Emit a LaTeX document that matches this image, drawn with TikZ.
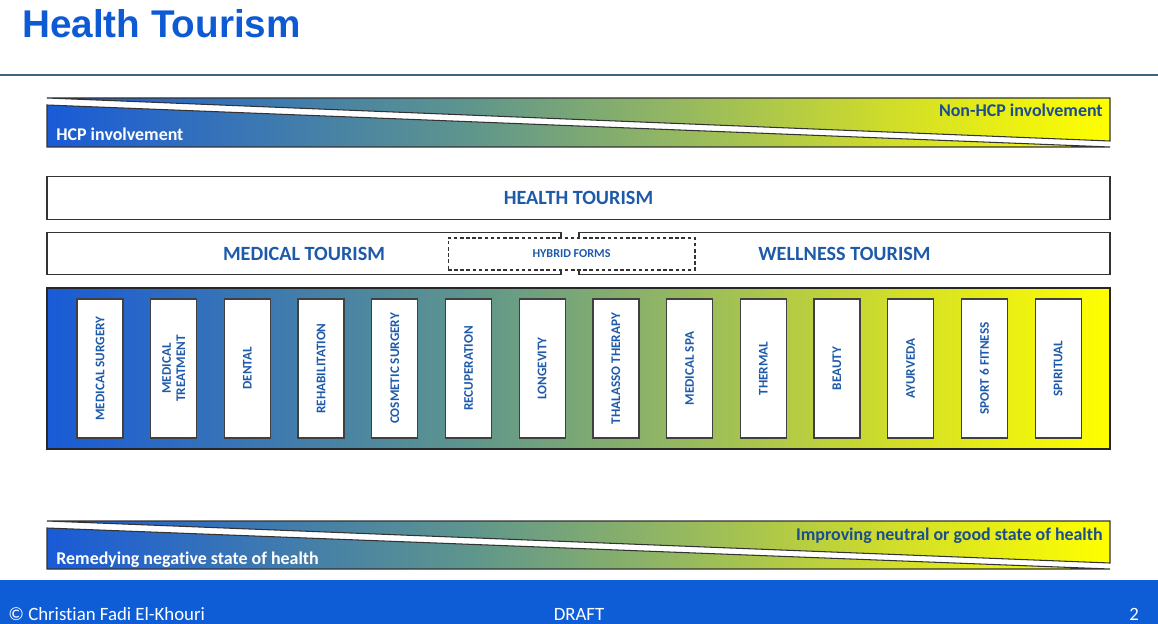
\documentclass[tikz,border=0pt]{standalone}
\usepackage{fontspec}
\setmainfont{Carlito}[Ligatures=NoCommon]
\newfontfamily\titlefont{Liberation Sans}
\usetikzlibrary{calc,positioning,shapes,backgrounds}
\definecolor{titleblue}{RGB}{14,90,212}
\definecolor{labelblue}{RGB}{30,90,170}
\definecolor{darklabel}{RGB}{28,78,140}
\definecolor{footblue}{RGB}{14,92,214}
\definecolor{rulegray}{RGB}{62,100,128}
\definecolor{gradA}{RGB}{25,90,215}
\definecolor{gradB}{RGB}{95,150,140}
\definecolor{gradC}{RGB}{150,185,95}
\definecolor{gradD}{RGB}{210,222,40}
\definecolor{gradE}{RGB}{255,255,0}
\pgfdeclarehorizontalshading{hcpshade}{100bp}{color(0bp)=(gradA); color(25bp)=(gradA); color(45bp)=(gradB); color(55bp)=(gradC); color(65bp)=(gradD); color(75bp)=(gradE); color(100bp)=(gradE)}
\tikzset{
  catbox/.style={draw=black!75,line width=.7pt,fill=white,rotate=90,minimum width=2.78cm,minimum height=.92cm,inner sep=0pt,align=center,text=labelblue,font=\fontsize{7.5}{8.2}\selectfont\bfseries},
  bandbox/.style={draw=black!80,line width=.7pt,fill=white,minimum height=.85cm,inner sep=0pt,text=labelblue,font=\fontsize{11.5}{13}\selectfont\bfseries},
  wedge/.style={draw=black!80,line width=.6pt,shade,shading=hcpshade},
  bandtext/.style={font=\fontsize{10.2}{12}\selectfont\bfseries,inner sep=0pt}
}

\begin{document}
\begin{tikzpicture}[x=0.02cm,y=-0.02cm] % pixel grid, y downwards
\useasboundingbox (0,0) rectangle (1158,624);

\node[anchor=base west,inner sep=0pt,text=titleblue,font=\titlefont\fontsize{22}{26}\selectfont\bfseries] (title) at (22,38) {Health Tourism};
\draw[rulegray,line width=.9pt] (0,75) -- (1158,75);

% top band
\draw[wedge] (47,98) -- (1110,98) -- (1110,141) -- cycle;
\draw[wedge] (47,105) -- (47,147) -- (1110,147) -- cycle;
\node[bandtext,text=white,anchor=base west] (hcp) at (56,141) {HCP involvement};
\node[bandtext,text=darklabel,anchor=base east] (nonhcp) at (1103,117) {Non-HCP involvement};

\node[bandbox,minimum width=21.26cm] (health) at (578.5,198) {HEALTH TOURISM};
\node[bandbox,minimum width=10.28cm] (medical) at (304,253.5) {MEDICAL TOURISM};
\node[bandbox,minimum width=10.62cm] (wellness) at (844.5,253.5) {WELLNESS TOURISM};
\node[draw=black!80,line width=.6pt,dash pattern=on 2pt off 1.5pt,fill=white,minimum width=4.94cm,minimum height=.64cm,inner sep=0pt,text=labelblue,font=\fontsize{6.9}{8}\selectfont\bfseries] (hybrid) at (571.5,254) {HYBRID FORMS};

\node[draw=black!85,line width=.8pt,shade,shading=hcpshade,minimum width=21.26cm,minimum height=3.22cm,inner sep=0pt] (cats) at (578.5,368.5) {};
\foreach \lab [count=\i] in {MEDICAL SURGERY,{MEDICAL\\TREATMENT},DENTAL,REHABILITATION,COSMETIC SURGERY,RECUPERATION,LONGEVITY,THALASSO THERAPY,MEDICAL SPA,THERMAL,BEAUTY,AYURVEDA,SPORT 6 FITNESS,SPIRITUAL}
  \node[catbox] (c\i) at ({26.3+73.7*\i},368.5) {\lab};

% bottom band
\draw[wedge] (47,521) -- (1110,521) -- (1110,563) -- cycle;
\draw[wedge] (47,528) -- (47,569) -- (1110,569) -- cycle;
\node[bandtext,text=white,anchor=base west] (remedy) at (56,564) {Remedying negative state of health};
\node[bandtext,text=darklabel,anchor=base east] (improve) at (1103,540) {Improving neutral or good state of health};

% footer
\fill[footblue] (0,580) rectangle (1158,624);
\node[anchor=base west,inner sep=0pt,text=white,font=\fontsize{10.7}{12}\selectfont] (copy) at (8,620) {© Christian Fadi El-Khouri};
\node[anchor=base,inner sep=0pt,text=white,font=\fontsize{10.7}{12}\selectfont] (draft) at (579,620) {DRAFT};
\node[anchor=base,inner sep=0pt,text=white,font=\fontsize{10.7}{12}\selectfont] (page) at (1134,620) {2};
\end{tikzpicture}
\end{document}
